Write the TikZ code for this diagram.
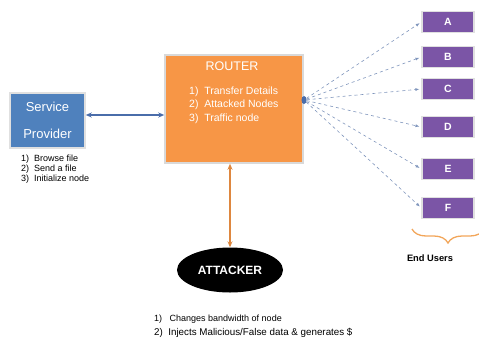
\documentclass[tikz,border=0pt]{standalone}
\usepackage{fontspec}
\setmainfont{Liberation Sans}
\usetikzlibrary{arrows.meta,shapes.geometric,decorations.pathreplacing}
\definecolor{spblue}{HTML}{4F81BD}
\definecolor{routerorange}{HTML}{F79646}
\definecolor{userpurple}{HTML}{7B55A6}
\definecolor{linkblue}{HTML}{4A6DAA}
\definecolor{spokeblue}{HTML}{7F95BC}
\definecolor{braceorange}{HTML}{F2A65A}
\tikzset{
  provider/.style={fill=spblue, draw=black!12, line width=1.5pt, minimum width=75pt, minimum height=55pt, align=center, text=white, font=\fontsize{13}{27}\selectfont},
  routerbox/.style={fill=routerorange, draw=black!15, line width=1.5pt, minimum width=138pt, minimum height=108pt},
  userbox/.style={fill=userpurple, draw=black!12, line width=1.2pt, minimum width=52pt, minimum height=21pt, text=white, font=\fontsize{10.5}{12}\selectfont\bfseries},
  attackerell/.style={ellipse, fill=black, minimum width=106pt, minimum height=45pt, text=white, font=\fontsize{12}{14}\selectfont\bfseries},
  hubdot/.style={ellipse, fill=linkblue, minimum width=5pt, minimum height=8pt, inner sep=0pt},
  note/.style={align=left, inner sep=0pt},
  link/.style={{Stealth[length=6pt,width=5pt]}-{Stealth[length=6pt,width=5pt]}, line width=1.6pt, draw=linkblue},
  probe/.style={{Stealth[length=6pt,width=5pt]}-{Stealth[length=6pt,width=5pt]}, line width=1.2pt, draw=routerorange!90!black},
  spoke/.style={-{Latex[length=4pt,width=3pt]}, dashed, line width=0.6pt, draw=spokeblue, shorten >=2pt},
  userbrace/.style={decorate, decoration={brace, mirror, amplitude=14pt}, line width=1.3pt, draw=braceorange}
}

\begin{document}
\begin{tikzpicture}[x=1pt, y=-1pt]
  \useasboundingbox (0,0) rectangle (479,341);

  \node[provider] (sp) at (47.5,120.5) {Service\\Provider};
  \node[note, anchor=north west, font=\fontsize{9}{10}\selectfont] (spnotes) at (21,155) {1)\ \ Browse file\\2)\ \ Send a file\\3)\ \ Initialize node};

  \node[routerbox] (router) at (234,109) {};
  \node[text=white, font=\fontsize{12.5}{14}\selectfont] (rtitle) at (232,66) {ROUTER};
  \node[note, anchor=north west, text=white, font=\fontsize{10.5}{13.5}\selectfont] (rlist) at (189,86.5) {1)\ \ Transfer Details\\2)\ \ Attacked Nodes\\3)\ \ Traffic node};
  \node[hubdot] (hub) at (304,100) {};

  \node[userbox] (ua) at (448,22) {A};
  \node[userbox] (ub) at (448,57) {B};
  \node[userbox] (uc) at (448,89) {C};
  \node[userbox] (ud) at (448,127) {D};
  \node[userbox] (ue) at (448,169) {E};
  \node[userbox] (uf) at (448,208) {F};

  \coordinate (bl) at (412,229);
  \coordinate (br) at (484,229);
  \node[font=\fontsize{9.3}{11}\selectfont\bfseries] (endusers) at (430,258) {End Users};

  \node[attackerell] (attacker) at (230,270) {ATTACKER};
  \node[note, anchor=north west] (atknotes) at (154,314.5) {{\fontsize{9}{9}\selectfont 1)\ \ \ Changes bandwidth of node}\\[2pt]{\fontsize{9.8}{10}\selectfont 2)\ \ Injects Malicious/False data \& generates \$}};

  \draw[link] ([yshift=5.5pt]sp.east) -- ([yshift=5.5pt]sp.east -| router.west);
  \draw[probe] (attacker.north |- router.south) -- (attacker.north);
  \draw[spoke] (hub) -- (ua.west);
  \draw[spoke] (hub) -- (ub.west);
  \draw[spoke] (hub) -- (uc.west);
  \draw[spoke] (hub) -- (ud.west);
  \draw[spoke] (hub) -- (ue.west);
  \draw[spoke] (hub) -- (uf.west);
  \draw[userbrace] (bl) -- (br);
\end{tikzpicture}
\end{document}
